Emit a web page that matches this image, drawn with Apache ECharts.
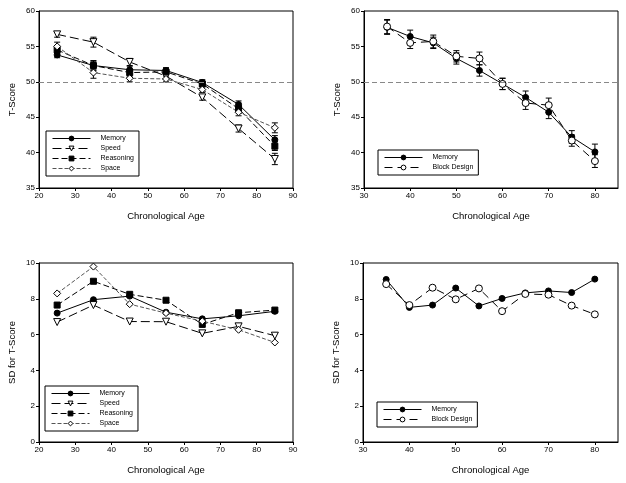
<!DOCTYPE html>
<html><head><meta charset="utf-8">
<script src="https://cdn.jsdelivr.net/npm/echarts@6/dist/echarts.min.js"></script>
<style>html,body{margin:0;padding:0;background:#fff}#c{width:626px;height:483px}</style>
</head><body><div id="c"></div>
<script>
// ---- data ----
var ageA = [25, 35, 45, 55, 65, 75, 85];
var tMemory    = [53.8, 52.3, 51.7, 51.6, 49.9, 46.8, 41.8];
var tSpeed     = [56.7, 55.6, 52.8, 50.8, 47.8, 43.4, 39.1];
var tReasoning = [54.5, 52.3, 51.3, 51.4, 49.7, 46.2, 40.9];
var tSpace     = [55.0, 51.3, 50.5, 50.4, 48.9, 45.7, 43.5];
var tMemoryErr    = [0.4, 0.6, 0.5, 0.4, 0.4, 0.5, 0.6];
var tSpeedErr     = [0.4, 0.7, 0.5, 0.4, 0.4, 0.5, 0.8];
var tReasoningErr = [0.5, 0.7, 0.5, 0.4, 0.4, 0.5, 0.6];
var tSpaceErr     = [0.6, 0.8, 0.5, 0.4, 0.4, 0.5, 0.7];

var ageB = [35, 40, 45, 50, 55, 60, 65, 70, 75, 80];
var bMemory = [57.7, 56.4, 55.5, 53.3, 51.6, 49.7, 47.8, 45.7, 42.2, 40.1];
var bBlock  = [57.8, 55.5, 55.7, 53.6, 53.3, 49.7, 47.0, 46.7, 41.7, 38.8];
var bMemoryErr = [1.0, 0.9, 0.8, 0.8, 0.8, 0.8, 0.9, 0.9, 0.9, 1.1];
var bBlockErr  = [1.0, 0.8, 0.9, 0.8, 0.9, 0.8, 0.9, 1.0, 0.8, 0.9];

var sdMemory    = [7.2, 7.95, 8.15, 7.25, 6.88, 7.05, 7.3];
var sdSpeed     = [6.7, 7.65, 6.73, 6.72, 6.07, 6.46, 5.94];
var sdReasoning = [7.65, 8.98, 8.25, 7.92, 6.57, 7.22, 7.37];
var sdSpace     = [8.3, 9.8, 7.7, 7.2, 6.75, 6.27, 5.56];

var sdBMemory = [9.08, 7.52, 7.65, 8.6, 7.6, 8.02, 8.33, 8.44, 8.35, 9.1];
var sdBBlock  = [8.82, 7.65, 8.62, 7.97, 8.58, 7.31, 8.27, 8.23, 7.62, 7.13];

var refLine = 50;

// ---- helpers ----
var FONT = 'Liberation Sans';
function pairs(xs, ys) { return xs.map(function (x, i) { return [x, ys[i]]; }); }
function errData(xs, ys, es) { return xs.map(function (x, i) { return [x, ys[i] - es[i], ys[i] + es[i]]; }); }

var styles = {
  'Memory':       { symbol: 'circle', size: 6, fill: '#000', line: 'solid', color: '#000', rot: 0 },
  'Speed':        { symbol: 'triangle', size: 7, fill: '#fff', line: [9, 4], color: '#000', rot: 180 },
  'Reasoning':    { symbol: 'rect', size: 6, fill: '#000', line: [6, 3], color: '#000', rot: 0 },
  'Space':        { symbol: 'diamond', size: 7, fill: '#fff', line: [4, 2], color: '#555', rot: 0 },
  'Block Design': { symbol: 'circle', size: 7, fill: '#fff', line: [8, 5], color: '#000', rot: 0 }
};

function lineSeries(name, idx, xs, ys, extra) {
  var s = styles[name];
  var o = {
    type: 'line', name: name, xAxisIndex: idx, yAxisIndex: idx,
    data: pairs(xs, ys), symbol: s.symbol, symbolSize: s.size, symbolRotate: s.rot,
    showAllSymbol: true,
    lineStyle: { color: s.color, width: 1, type: s.line },
    itemStyle: { color: s.fill, borderColor: '#000', borderWidth: 1 },
    z: 3, animation: false
  };
  if (extra) for (var k in extra) o[k] = extra[k];
  return o;
}
function errSeries(idx, xs, ys, es) {
  return {
    type: 'custom', xAxisIndex: idx, yAxisIndex: idx, silent: true, z: 2, animation: false,
    data: errData(xs, ys, es),
    encode: { x: 0, y: [1, 2] },
    renderItem: function (params, api) {
      var lo = api.coord([api.value(0), api.value(1)]);
      var hi = api.coord([api.value(0), api.value(2)]);
      var w = 3;
      var st = { stroke: '#000', lineWidth: 1 };
      return { type: 'group', children: [
        { type: 'line', shape: { x1: lo[0], y1: lo[1], x2: hi[0], y2: hi[1] }, style: st },
        { type: 'line', shape: { x1: lo[0] - w, y1: lo[1], x2: lo[0] + w, y2: lo[1] }, style: st },
        { type: 'line', shape: { x1: hi[0] - w, y1: hi[1], x2: hi[0] + w, y2: hi[1] }, style: st }
      ]};
    }
  };
}

var grids = [
  { left: 39, top: 11, width: 254, height: 177 },
  { left: 364, top: 11, width: 254, height: 177 },
  { left: 39, top: 263, width: 254, height: 179 },
  { left: 363, top: 263, width: 255, height: 179 }
].map(function (g) { g.show = true; g.borderColor = '#000'; g.borderWidth = 1; return g; });

function xAxis(idx, min, max, showMax) {
  return {
    type: 'value', gridIndex: idx, min: min, max: max, interval: 10,
    name: 'Chronological Age', nameLocation: 'middle', nameGap: 23,
    nameTextStyle: { fontFamily: FONT, fontSize: 9.5, color: '#000' },
    axisLine: { lineStyle: { color: '#000', width: 1 } },
    axisTick: { show: true, inside: false, length: 3, lineStyle: { color: '#000' } },
    axisLabel: { fontFamily: FONT, fontSize: 8, color: '#000', margin: 4, showMaxLabel: showMax },
    splitLine: { show: false }
  };
}
function yAxis(idx, min, max, interval, name) {
  return {
    type: 'value', gridIndex: idx, min: min, max: max, interval: interval,
    name: name, nameLocation: 'middle', nameGap: 22,
    nameTextStyle: { fontFamily: FONT, fontSize: 9.5, color: '#000' },
    axisLine: { show: true, lineStyle: { color: '#000', width: 1 } },
    axisTick: { show: true, inside: false, length: 3, lineStyle: { color: '#000' } },
    axisLabel: { fontFamily: FONT, fontSize: 8, color: '#000', margin: 4 },
    splitLine: { show: false }
  };
}

var refMark = {
  silent: true, symbol: 'none', label: { show: false },
  lineStyle: { color: '#888', type: [5, 3], width: 1 },
  data: [{ yAxis: refLine }]
};

function legend(left, top, names) {
  return {
    left: left, top: top, orient: 'vertical', data: names,
    itemWidth: 38, itemHeight: 6, itemGap: 3,
    padding: [4, 5, 4, 6],
    borderColor: '#000', borderWidth: 1,
    lineStyle: { width: 1 },
    itemStyle: { borderWidth: 1 },
    textStyle: { fontFamily: FONT, fontSize: 7, color: '#000', padding: [0, 0, 0, 5] },
    selectedMode: false
  };
}

var series = [
  errSeries(0, ageA, tMemory, tMemoryErr),
  errSeries(0, ageA, tSpeed, tSpeedErr),
  errSeries(0, ageA, tReasoning, tReasoningErr),
  errSeries(0, ageA, tSpace, tSpaceErr),
  lineSeries('Memory', 0, ageA, tMemory, { markLine: refMark }),
  lineSeries('Speed', 0, ageA, tSpeed),
  lineSeries('Reasoning', 0, ageA, tReasoning),
  lineSeries('Space', 0, ageA, tSpace),

  errSeries(1, ageB, bMemory, bMemoryErr),
  errSeries(1, ageB, bBlock, bBlockErr),
  lineSeries('Memory', 1, ageB, bMemory, { markLine: refMark }),
  lineSeries('Block Design', 1, ageB, bBlock),

  lineSeries('Memory', 2, ageA, sdMemory),
  lineSeries('Speed', 2, ageA, sdSpeed),
  lineSeries('Reasoning', 2, ageA, sdReasoning),
  lineSeries('Space', 2, ageA, sdSpace),

  lineSeries('Memory', 3, ageB, sdBMemory),
  lineSeries('Block Design', 3, ageB, sdBBlock)
];

var chart = echarts.init(document.getElementById('c'), null, { renderer: 'canvas' });
chart.setOption({
  backgroundColor: '#fff',
  animation: false,
  grid: grids,
  xAxis: [xAxis(0, 20, 90, true), xAxis(1, 30, 85, false), xAxis(2, 20, 90, true), xAxis(3, 30, 85, false)],
  yAxis: [
    yAxis(0, 35, 60, 5, 'T-Score'),
    yAxis(1, 35, 60, 5, 'T-Score'),
    yAxis(2, 0, 10, 2, 'SD for T-Score'),
    yAxis(3, 0, 10, 2, 'SD for T-Score')
  ],
  legend: [
    legend(46, 131, ['Memory', 'Speed', 'Reasoning', 'Space']),
    legend(378, 150, ['Memory', 'Block Design']),
    legend(45, 386, ['Memory', 'Speed', 'Reasoning', 'Space']),
    legend(377, 402, ['Memory', 'Block Design'])
  ],
  series: series
});
</script>
</body></html>
